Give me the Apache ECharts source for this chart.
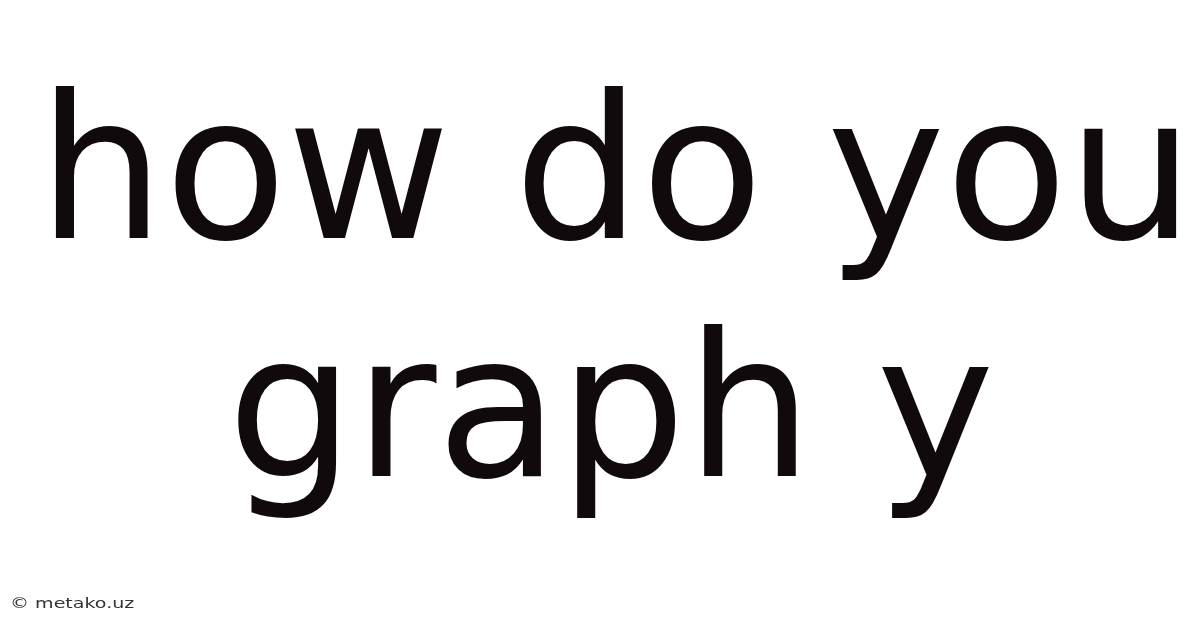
<!DOCTYPE html>
<html>
<head>
<meta charset="utf-8">
<style>html,body{margin:0;padding:0;background:#fff;}#c{width:1200px;height:628px;}</style>
<script src="https://cdn.jsdelivr.net/npm/echarts@6/dist/echarts.min.js"></script>
</head>
<body>
<div id="c"></div>
<script>
const titleLines = ["how do you", "graph y"];
const watermark = "© metako.uz";

const lineCenters = [616, 611];
const lineBottoms = [286, 524];

const chart = echarts.init(document.getElementById('c'), null, {renderer: 'canvas'});
const elements = titleLines.map((t, i) => ({
  type: 'text',
  x: lineCenters[i],
  y: lineBottoms[i],
  style: {
    text: t,
    font: '200px "DejaVu Sans"',
    fill: '#110a0c',
    textAlign: 'center',
    textVerticalAlign: 'bottom'
  }
}));
elements.push({
  type: 'text',
  x: 10,
  y: 611,
  scaleX: 1.36,
  style: {
    text: watermark,
    font: '14px "DejaVu Sans"',
    fill: '#333333',
    textAlign: 'left',
    textVerticalAlign: 'bottom'
  }
});
chart.setOption({
  backgroundColor: '#ffffff',
  animation: false,
  graphic: elements
});
</script>
</body>
</html>
